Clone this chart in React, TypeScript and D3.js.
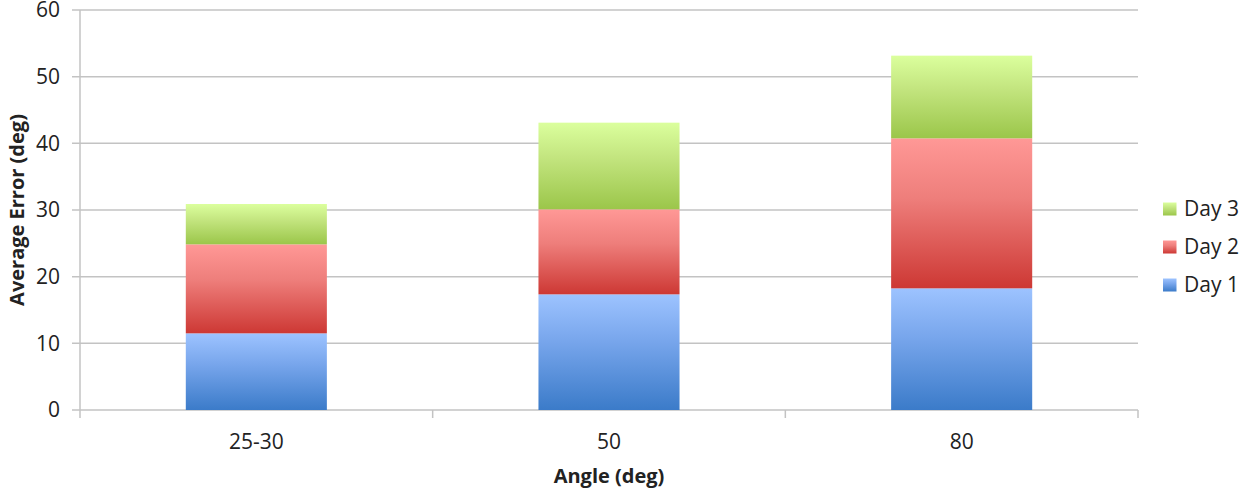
import React from "react";
import * as d3 from "d3";

const categories = ["25-30", "50", "80"];
const seriesNames = ["Day 1", "Day 2", "Day 3"];
const day1 = [11.5, 17.35, 18.25];
const day2 = [13.35, 12.75, 22.5];
const day3 = [6.05, 13.0, 12.4];
const yTicks = [0, 10, 20, 30, 40, 50, 60];

const gradients = [
  { id: "gBlue", top: "#9DC3FF", mid: "#78A6EC", bottom: "#3B7BC9" },
  { id: "gRed", top: "#FF9896", mid: "#EE7E7B", bottom: "#CD3834" },
  { id: "gGreen", top: "#DBFF9D", mid: "#C3E57F", bottom: "#9BC64A" },
];

const W = 1240;
const H = 490;
const left = 80;
const right = 1138;
const top = 10;
const bottom = 410;
const font = "'Open Sans', sans-serif";

export default function App() {
  const x = d3
    .scaleBand<string>()
    .domain(categories)
    .range([left, right])
    .paddingInner(0.6)
    .paddingOuter(0.3);
  const xCat = d3.scaleBand<string>().domain(categories).range([left, right]);
  const y = d3.scaleLinear().domain([0, 60]).range([bottom, top]);

  const table = categories.map((c, i) => ({
    cat: c,
    "Day 1": day1[i],
    "Day 2": day2[i],
    "Day 3": day3[i],
  }));
  const stacked = d3.stack<any>().keys(seriesNames)(table);

  const legendY = [285, 247, 209];

  return (
    <svg
      width={W}
      height={H}
      style={{ position: "absolute", left: 0, top: 0, background: "#fff" }}
      fontFamily={font}
    >
      <defs>
        {gradients.map((g) => (
          <linearGradient key={g.id} id={g.id} x1="0" y1="0" x2="0" y2="1">
            <stop offset="0" stopColor={g.top} />
            <stop offset="0.4" stopColor={g.mid} stopOpacity={1} />
            <stop offset="1" stopColor={g.bottom} />
          </linearGradient>
        ))}
      </defs>

      {/* gridlines + y ticks */}
      {yTicks.map((t) => (
        <g key={t}>
          <line
            x1={left - 8}
            x2={right}
            y1={y(t)}
            y2={y(t)}
            stroke="#C3C3C3"
            strokeWidth={1.5}
          />
          <text
            x={60}
            y={y(t)}
            dy="0.35em"
            textAnchor="end"
            fontSize={21}
            fill="#222"
          >
            {t}
          </text>
        </g>
      ))}

      {/* y axis line */}
      <line x1={left} x2={left} y1={top} y2={bottom + 8} stroke="#C3C3C3" strokeWidth={1.5} />

      {/* x category tick marks */}
      {categories.map((c) => (
        <line
          key={c}
          x1={(xCat(c) as number) + xCat.bandwidth()}
          x2={(xCat(c) as number) + xCat.bandwidth()}
          y1={bottom}
          y2={bottom + 8}
          stroke="#C3C3C3"
          strokeWidth={1.5}
        />
      ))}

      {/* bars */}
      {stacked.map((s, si) => (
        <g key={s.key}>
          {s.map((d, i) => (
            <rect
              key={i}
              x={x(categories[i])}
              width={x.bandwidth()}
              y={y(d[1])}
              height={y(d[0]) - y(d[1])}
              fill={`url(#${gradients[si].id})`}
            />
          ))}
        </g>
      ))}

      {/* x labels */}
      {categories.map((c) => (
        <text
          key={c}
          x={(x(c) as number) + x.bandwidth() / 2}
          y={442}
          dy="0.35em"
          textAnchor="middle"
          fontSize={21}
          fill="#222"
        >
          {c}
        </text>
      ))}

      {/* axis titles */}
      <text
        x={(left + right) / 2}
        y={476}
        dy="0.35em"
        textAnchor="middle"
        fontSize={20}
        fontWeight="bold"
        fill="#222"
      >
        Angle (deg)
      </text>
      <text
        transform={`translate(17, ${(top + bottom) / 2}) rotate(-90)`}
        dy="0.35em"
        textAnchor="middle"
        fontSize={20}
        fontWeight="bold"
        fill="#222"
      >
        Average Error (deg)
      </text>

      {/* legend */}
      {seriesNames.map((n, i) => (
        <g key={n} transform={`translate(1163, ${legendY[i]})`}>
          <rect x={0} y={-6.5} width={13.5} height={13} fill={`url(#${gradients[i].id})`} />
          <text x={21} y={0} dy="0.35em" fontSize={21} fill="#222">
            {n}
          </text>
        </g>
      ))}
    </svg>
  );
}
